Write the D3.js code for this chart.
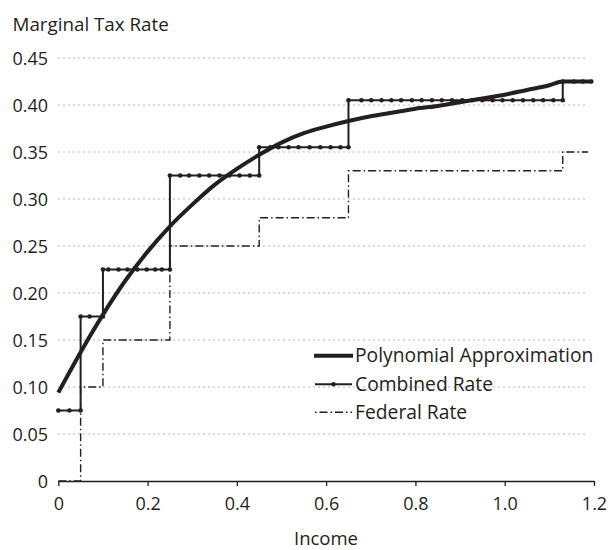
<!DOCTYPE html>
<html><head><meta charset="utf-8">
<script src="https://cdn.jsdelivr.net/npm/d3@7"></script>
<style>body{margin:0;background:#fff}svg{display:block}text{font-family:"Open Sans",sans-serif;fill:#231f20}</style>
</head><body>
<svg id="c" width="608" height="550"></svg>
<script>
// ---- data ----
const xTicks = [0, 0.2, 0.4, 0.6, 0.8, 1.0, 1.2];
const xTickLabels = ["0", "0.2", "0.4", "0.6", "0.8", "1.0", "1.2"];
const yTicks = [0, 0.05, 0.10, 0.15, 0.20, 0.25, 0.30, 0.35, 0.40, 0.45];
const yTickLabels = ["0", "0.05", "0.10", "0.15", "0.20", "0.25", "0.30", "0.35", "0.40", "0.45"];

const bracketBreaks = [0, 0.05, 0.10, 0.25, 0.45, 0.65, 1.13];
const combinedRates = [0.075, 0.175, 0.225, 0.325, 0.355, 0.405, 0.425];
const combinedEnd = 1.194;
const federalRates = [0.00, 0.10, 0.15, 0.25, 0.28, 0.33, 0.35];
const federalEnd = 1.187;

// income values at which the combined rate was sampled (markers)
const combinedSampleIncome = [
  0, 0.025, 0.05,
  0.05, 0.07, 0.10,
  0.10, 0.112, 0.135, 0.155, 0.177, 0.198, 0.217, 0.232, 0.25,
  0.25, 0.273, 0.293, 0.316, 0.338, 0.361, 0.383, 0.406, 0.429, 0.45,
  0.45, 0.475, 0.493, 0.516, 0.538, 0.563, 0.587, 0.610, 0.632, 0.65,
  0.65, 0.679, 0.701, 0.724, 0.746, 0.768, 0.792, 0.814, 0.837, 0.859, 0.882, 0.905, 0.927, 0.950, 0.973, 0.995, 1.018, 1.041, 1.064, 1.086, 1.109, 1.13,
  1.13, 1.155, 1.175, 1.194
];

const polyIncome = [0, 0.05, 0.10, 0.15, 0.20, 0.25, 0.30, 0.35, 0.40, 0.45, 0.50, 0.55, 0.60, 0.65, 0.70, 0.75, 0.80, 0.85, 0.90, 0.95, 1.00, 1.05, 1.10, 1.13, 1.194];
const polyRate   = [0.094, 0.137, 0.177, 0.213, 0.244, 0.271, 0.294, 0.315, 0.332, 0.347, 0.360, 0.370, 0.377, 0.383, 0.388, 0.392, 0.396, 0.399, 0.403, 0.407, 0.411, 0.416, 0.421, 0.425, 0.425];

const legendLabels = ["Polynomial Approximation", "Combined Rate", "Federal Rate"];

// ---- drawing ----
const ink = "#231f20";
const svg = d3.select("#c");
const x = d3.scaleLinear().domain([0, 1.2]).range([58.3, 594]);
const y = d3.scaleLinear().domain([0, 0.45]).range([481, 58]);

// gridlines
svg.append("g").selectAll("line").data(yTicks.filter(d => d > 0)).join("line")
  .attr("x1", 58).attr("x2", 588)
  .attr("y1", d => y(d)).attr("y2", d => y(d))
  .attr("stroke", "#b5b5b5").attr("stroke-width", 1).attr("stroke-dasharray", "2,3");

// y axis (labels only)
const yAxis = svg.append("g").attr("transform", "translate(58,0)")
  .call(d3.axisLeft(y).tickValues(yTicks).tickFormat((d, i) => yTickLabels[i]).tickSize(0).tickPadding(10));
yAxis.select(".domain").remove();
yAxis.selectAll("text").attr("font-size", 18).attr("font-family", "Open Sans").attr("fill", ink).attr("dy", "0.35em");

// x axis
const xAxis = svg.append("g").attr("transform", "translate(0,481)")
  .call(d3.axisBottom(x).tickValues(xTicks).tickFormat((d, i) => xTickLabels[i]).tickSizeInner(5).tickSizeOuter(0).tickPadding(11));
xAxis.select(".domain").attr("stroke", ink).attr("stroke-width", 1.3);
xAxis.selectAll(".tick line").attr("stroke", ink).attr("stroke-width", 1.3);
xAxis.selectAll("text").attr("font-size", 18).attr("font-family", "Open Sans").attr("fill", ink);

// axis titles
svg.append("text").attr("x", 12.5).attr("y", 31).attr("font-size", 18.8).text("Marginal Tax Rate");
svg.append("text").attr("x", 326).attr("y", 545).attr("text-anchor", "middle").attr("font-size", 18.5).text("Income");

// step series
function stepPoints(rates, end) {
  const pts = bracketBreaks.map((b, i) => [b, rates[i]]);
  pts.push([end, rates[rates.length - 1]]);
  return pts;
}
const stepLine = d3.line().x(d => x(d[0])).y(d => y(d[1])).curve(d3.curveStepAfter);

// federal
svg.append("path").datum(stepPoints(federalRates, federalEnd))
  .attr("d", stepLine).attr("fill", "none").attr("stroke", ink)
  .attr("stroke-width", 1.4).attr("stroke-dasharray", "8,3,1.5,3");

// combined
svg.append("path").datum(stepPoints(combinedRates, combinedEnd))
  .attr("d", stepLine).attr("fill", "none").attr("stroke", ink).attr("stroke-width", 2);

// markers: each sample assigned to its bracket (duplicates at breaks start next bracket)
const markers = [];
let seg = 0;
combinedSampleIncome.forEach((v, i) => {
  if (i > 0 && Math.abs(v - combinedSampleIncome[i - 1]) < 1e-9) seg++;
  markers.push([v, combinedRates[Math.min(seg, combinedRates.length - 1)]]);
});
svg.append("g").selectAll("circle").data(markers).join("circle")
  .attr("cx", d => x(d[0])).attr("cy", d => y(d[1])).attr("r", 2.3).attr("fill", ink);

// polynomial
svg.append("path").datum(polyIncome.map((v, i) => [v, polyRate[i]]))
  .attr("d", d3.line().x(d => x(d[0])).y(d => y(d[1])).curve(d3.curveMonotoneX))
  .attr("fill", "none").attr("stroke", ink).attr("stroke-width", 4).attr("stroke-linejoin", "round");

// legend
const lg = svg.append("g");
const ly = [355.7, 384.3, 412.3];
lg.append("line").attr("x1", 314).attr("x2", 353).attr("y1", ly[0]).attr("y2", ly[0]).attr("stroke", ink).attr("stroke-width", 4);
lg.append("line").attr("x1", 315).attr("x2", 352).attr("y1", ly[1]).attr("y2", ly[1]).attr("stroke", ink).attr("stroke-width", 2);
lg.append("circle").attr("cx", 333.5).attr("cy", ly[1]).attr("r", 2.3).attr("fill", ink);
lg.append("line").attr("x1", 315).attr("x2", 352).attr("y1", ly[2]).attr("y2", ly[2]).attr("stroke", ink).attr("stroke-width", 1.4).attr("stroke-dasharray", "1.5,3,8,3");
lg.selectAll("text").data(legendLabels).join("text")
  .attr("x", 355).attr("y", (d, i) => ly[i] + 6.3).attr("font-size", 19.3).text(d => d);
</script>
</body></html>
